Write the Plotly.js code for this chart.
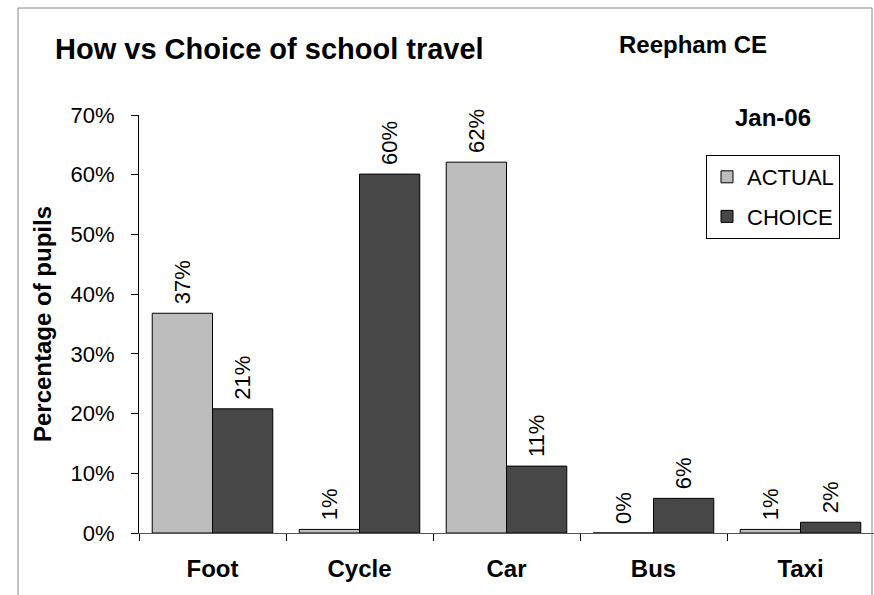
<!DOCTYPE html>
<html>
<head>
<meta charset="utf-8">
<script src="https://cdn.plot.ly/plotly-3.0.1.min.js"></script>
<style>html,body{margin:0;padding:0;background:#fff;}#chart{width:874px;height:595px;}</style>
</head>
<body>
<div id="chart"></div>
<script>
var categories = ["Foot", "Cycle", "Car", "Bus", "Taxi"];
var actualValues = [0.368, 0.006, 0.621, 0.0, 0.006];
var choiceValues = [0.208, 0.601, 0.112, 0.058, 0.018];
var yTickVals = [0, 0.1, 0.2, 0.3, 0.4, 0.5, 0.6, 0.7];
var yTickText = ["0%", "10%", "20%", "30%", "40%", "50%", "60%", "70%"];

var FONT = "Liberation Sans, Arial, sans-serif";

var traces = [
  {
    type: "bar", name: "ACTUAL", x: categories, y: actualValues,
    marker: {color: "#bdbdbd", line: {color: "#000", width: 1}},
    texttemplate: "\u00a0%{y:.0%}", textposition: "outside", textangle: -90,
    constraintext: "none", cliponaxis: false,
    textfont: {family: FONT, size: 22, color: "#000"},
    legendgroup: "a", hoverinfo: "skip"
  },
  {
    type: "bar", name: "CHOICE", x: categories, y: choiceValues,
    marker: {color: "#474747", line: {color: "#000", width: 1}},
    texttemplate: "\u00a0%{y:.0%}", textposition: "outside", textangle: -90,
    constraintext: "none", cliponaxis: false,
    textfont: {family: FONT, size: 22, color: "#000"},
    legendgroup: "b", hoverinfo: "skip"
  }
];

var layout = {
  width: 874, height: 595,
  margin: {l: 139, r: 0, t: 115, b: 62},
  paper_bgcolor: "#fff", plot_bgcolor: "#fff",
  font: {family: FONT, color: "#000"},
  barmode: "group", bargap: 0.18, bargroupgap: 0,
  title: {
    text: "How vs Choice of school travel",
    x: 55 / 874, xref: "container", xanchor: "left",
    y: 1 - 49 / 595, yref: "container", yanchor: "middle",
    font: {family: FONT, size: 29, weight: "bold", color: "#000"}
  },
  xaxis: {
    type: "category", showgrid: false, zeroline: false,
    showline: true, linecolor: "#555", linewidth: 1,
    ticks: "outside", tickson: "boundaries", ticklen: 7, tickcolor: "#000",
    ticklabelstandoff: 14,
    tickfont: {family: FONT, size: 24, weight: "bold", color: "#000"},
    fixedrange: true
  },
  yaxis: {
    range: [0, 0.7], tickvals: yTickVals, ticktext: yTickText,
    showgrid: false, zeroline: false,
    showline: true, linecolor: "#000", linewidth: 1,
    ticks: "outside", ticklen: 7, tickcolor: "#000",
    ticklabelstandoff: 12,
    tickfont: {family: FONT, size: 22, color: "#000"},
    title: {text: "Percentage of pupils", standoff: 12,
            font: {family: FONT, size: 24, weight: "bold", color: "#000"}},
    automargin: false, fixedrange: true
  },
  showlegend: true,
  legend: {
    x: (706 - 139) / 735, xanchor: "left",
    y: (533 - 155) / 418, yanchor: "top",
    bordercolor: "#000", borderwidth: 1, bgcolor: "#fff",
    font: {family: FONT, size: 22, color: "#000"},
    traceorder: "grouped", tracegroupgap: 8
  },
  annotations: [
    {text: "Reepham CE", xref: "paper", yref: "paper",
     x: (617 - 139) / 735, xanchor: "left", y: (533 - 45) / 418, yanchor: "middle",
     showarrow: false, font: {family: FONT, size: 24, weight: "bold", color: "#000"}},
    {text: "Jan-06", xref: "paper", yref: "paper",
     x: (733 - 139) / 735, xanchor: "left", y: (533 - 118) / 418, yanchor: "middle",
     showarrow: false, font: {family: FONT, size: 24, weight: "bold", color: "#000"}}
  ],
  shapes: [
    {type: "rect", xref: "paper", yref: "paper",
     x0: (18 - 139) / 735, x1: (872 - 139) / 735,
     y0: (533 - 620) / 418, y1: (533 - 8) / 418,
     line: {color: "#888", width: 1}, fillcolor: "rgba(0,0,0,0)", layer: "below"}
  ]
};

Plotly.newPlot("chart", traces, layout, {displayModeBar: false, staticPlot: true});
</script>
</body>
</html>
